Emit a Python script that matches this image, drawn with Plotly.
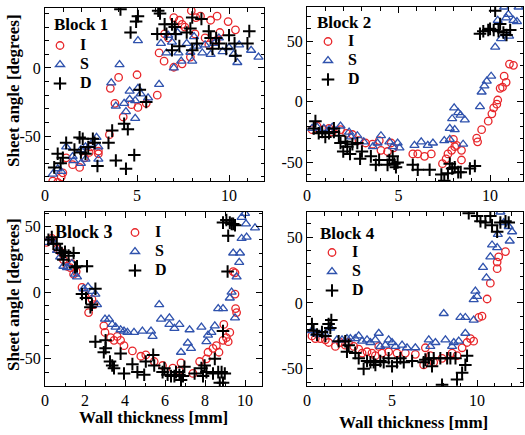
import plotly.graph_objects as go

# ---------------- data ----------------
# Block 1
B1_I_x = [0.42,0.69,0.88,0.97,1.15,1.5,1.88,2.15,2.4,2.5,2.9,2.9,3.5,3.55,3.8,4.0,4.25,4.7,5.0,5.05,5.5,6.1,6.2,6.47,6.5,6.7,7.0,7.0,7.3,7.45,7.45,7.6,7.9,7.95,8.15,8.2,8.45,8.7,9.0,9.35,9.5,9.95,10.35,8.9,9.3]
B1_I_y = [-83,-84,-80,-77,-66,-71,-73,-66,-62,-58,-63,-61,-49,-15,-26,-7,-36,-27,-5,-29,-26,-20,11,5,25,22,37,0.5,35,32,3,30,8,42,25,37,38,22,35,38,26,34,28,17,20]
B1_S_x = [0.42,0.69,0.88,1.15,1.5,1.55,1.95,1.95,2.2,2.2,2.5,2.8,2.9,2.9,3.6,3.85,4.05,4.3,4.4,4.6,4.6,4.9,4.9,5.05,5.05,5.2,5.6,6.2,6.3,6.6,6.7,6.9,7.0,7.2,7.25,7.4,7.7,7.9,8.0,8.1,8.25,8.55,8.7,9.0,9.2,9.45,9.65,10.0,10.25,10.45,10.55,11.2,11.6]
B1_S_y = [-78,-74,-76,-58,-65,-68,-70,-60,-58,-67,-56,-51,-58,-67,-11,-28,2.5,-26,-32,-17,-23,-24,-37,20,-15,-19,-22,-12,18,11,24,19,0,26,11,5,18,11.5,5,23,16,11,17,10,18,22,12,15,10,4,17,13,8]
B1_D_x = [0.5,0.69,0.85,0.97,1.15,1.6,1.88,1.95,2.05,2.2,2.35,2.6,2.7,2.85,3.45,3.65,3.85,4.1,4.3,4.4,4.5,4.65,4.85,4.95,5.05,5.15,5.5,6.15,6.25,6.1,6.5,6.6,6.9,7.05,7.1,6.9,7.3,7.7,7.9,8.0,8.25,8.0,8.5,8.9,9.0,9.1,9.3,9.45,9.85,10.0,10.3,10.35,11.1,11.0]
B1_D_y = [-73,-63,-70,-66,-55,-60,-51,-62,-52,-63,-58,-52,-55,-72,-55,-46,-68,43,-41,-74,-45,26,-64,34,38,-16,-25,42,40,25,32,25,32,30,25,13,16,26,29,37,18,13,36,27,22,14,22,18,14,24,18,9,27,18]

# Block 2
B2_I_x = [0.28,0.55,0.92,1.2,1.38,1.83,2.16,2.48,2.84,3.2,3.58,3.95,4.04,4.4,4.6,4.73,5.78,6.05,6.42,6.79,7.4,7.6,7.7,7.9,8.07,8.0,8.17,8.44,8.44,9.27,9.32,9.54,9.9,10.1,10.2,10.37,10.42,10.55,10.68,10.77,10.88,11.06,11.28]
B2_I_y = [-23,-20,-23,-22,-25,-23,-26,-27,-32,-34,-35,-32,-40,-41,-34,-38,-43,-43,-45,-43,-51,-47,-43,-40,-37,-31,-36,-40,-48,-30,-33,-23,-16,-10,-5,-2,1.4,11,12,21,16,31,30]
B2_S_x = [0.28,0.55,0.92,1.2,1.38,1.83,2.3,2.4,2.75,3.1,3.6,3.85,4.04,4.5,4.68,4.95,5.05,5.87,6.24,6.6,6.88,7.5,7.8,7.8,7.93,8.04,8.07,8.26,8.39,8.53,8.62,9.45,9.54,9.69,9.82,10.06,10.28,10.42,10.6,10.77,10.88,11.0,11.04,11.28,11.47,11.56]
B2_S_y = [-22,-21,-22,-23,-21,-20,-25,-29,-28,-33,-37,-34,-28,-33,-37,-34,-38,-36,-33,-36,-34,-32,-31,-22,-14,-5,-23,-9,-11,-35,-15,-4,8,13,17,21,45,67,52,78,69,72,54,67,66,78]
B2_D_x = [0.46,0.37,0.64,0.83,1.0,1.2,1.47,1.47,1.74,1.83,1.98,2.1,2.2,2.35,2.48,2.75,2.9,3.0,3.49,3.76,3.94,4.4,4.5,4.68,4.77,4.95,4.86,5.78,6.05,6.7,7.34,7.5,7.7,7.8,7.93,8.07,8.26,8.4,8.9,9.17,9.45,9.63,9.9,10.0,10.2,10.28,10.46,10.55,10.73,10.9,11.1]
B2_D_y = [-16,-22,-26,-25,-29,-26,-22,-25,-28,-34,-41,-33,-37,-43,-35,-34,-47,-41,-45,-52,-48,-52,-48,-45,-51,-50,-54,-52,-56,-56,-60,-65,-59,-51,-55,-54,-58,-58,-55,-53,56,58,59,60,59,75,58,64,57,55,59]

# Block 3
B3_I_x = [0.08,0.34,0.6,0.76,0.92,1.1,1.26,1.34,1.43,1.56,1.85,2.0,2.18,2.35,2.44,2.94,3.0,3.28,3.45,3.61,3.78,3.95,4.37,4.79,5.04,5.46,5.88,6.39,6.72,6.8,7.4,7.73,8.07,8.15,8.4,8.57,8.7,8.9,8.94,9.07,9.16,9.24,9.41,9.5,9.5,9.53,9.58]
B3_I_y = [38,41,33,31,25,20,19,22,14,16,4,-1,-15,-5,-9,-25,-30,-34,-36,-33,-36,-40,-44,-48,-47,-52,-55,-57,-59,-53,-61,-52,-50,-45,-42,-40,-45,-36,-24,-34,-37,-30,16,15,-1,-12,-15]
B3_S_x = [0.08,0.34,0.6,0.76,0.92,1.1,1.34,1.5,1.6,1.93,2.15,2.35,2.52,2.6,3.0,3.2,3.36,3.53,3.78,3.95,4.12,4.45,4.87,5.3,5.38,5.71,5.8,6.22,6.22,6.47,6.72,6.8,7.14,7.23,7.3,7.82,8.07,8.15,8.32,8.49,8.66,8.9,9.24,9.33,9.5,9.41,9.75,9.71,9.58,9.83,10.0,10.05,10.08,10.5,9.83]
B3_S_y = [38,40,32,27,20,19,22,14,12,3,4.5,1,-1,-9,-20,-20,-24,-26,-28,-29,-30,-30,-29,-29,-33,-9,-20,-19,-24,-27,-24,-45,-38,-28,-42,-26,-37,-32,-30,-25,-12,-12,-4,0.5,-19,30,30,23,12,41,60,52,42,49,57]
B3_D_x = [0.17,0.34,0.42,0.59,0.76,0.84,0.92,1.0,1.18,1.43,1.5,1.6,2.1,1.85,2.05,2.27,2.35,2.52,2.52,2.94,3.03,3.03,3.25,3.36,3.45,3.78,3.95,4.37,4.62,4.96,5.04,5.41,5.46,5.88,5.97,6.13,6.3,6.47,6.55,6.72,6.8,6.9,6.97,7.48,7.82,7.9,7.98,8.07,8.4,8.49,8.66,8.83,8.74,8.9,8.99,8.9,9.13,8.9,9.07,9.16,9.24,9.33,9.41,9.5]
B3_D_y = [40,42,37,37,32,30,25,31,28,30,19,20,20,-1,-4,-11,-9,3,-37,-45,-42,-36,-52,-55,-57,-46,-61,-54,-60,-62,-52,-47,-55,-60,-57,-62,-63,-63,-60,-62,-66,-63,-56,-61,-57,-63,-55,-60,-61,-50,-60,-60,-68,-68,-61,-29,16,53,55,43,53,52,52,51]

# Block 4
B4_I_x = [0.29,0.49,0.78,1.08,1.27,1.67,1.96,2.25,2.45,2.75,3.04,3.24,3.53,3.82,4.02,4.22,4.41,4.8,5.29,5.78,6.37,6.86,6.96,7.25,7.45,7.94,8.53,8.82,9.12,9.41,9.61,9.8,10.1,10.29,10.59,10.78,11.18,11.18,11.27,11.67]
B4_I_y = [-25,-27,-27,-28,-30,-33,-30,-32,-30,-33,-35,-38,-37,-38,-40,-33,-38,-37,-38,-38,-39,-47,-34,-40,-45,-42,-38,-40,-34,-30,-27,-29,-11,-10,3,15,26,31,35,39]
B4_S_x = [0.29,0.49,0.78,1.08,1.37,1.76,2.06,2.35,2.55,2.84,3.04,3.24,3.53,3.73,4.02,4.22,4.31,4.61,4.8,5.0,5.2,5.59,5.88,6.37,7.16,7.25,7.55,8.04,8.14,8.53,8.63,8.92,9.02,9.31,9.31,9.8,9.8,9.9,10.0,10.35,10.55,10.78,10.88,11.18,11.22,11.37,11.57,11.86,11.92,12.06]
B4_S_y = [-21,-23,-24,-24,-19,-28,-28,-27,-27,-27,-25,-29,-28,-30,-28,-23,-33,-32,-28,-30,-33,-32,-34,-34,-28,-33,-30,-8,-28,-33,-30,-29,-11,-11,-23,-13,2.5,9,5,27,19,35,44,42,52,69,61,58,47,54]
B4_D_x = [0.29,0.39,0.59,0.88,1.08,1.27,1.43,1.37,1.86,2.25,2.35,2.45,2.84,3.04,3.33,3.53,3.73,3.92,4.02,4.31,4.51,4.8,5.0,5.29,5.49,5.69,6.18,6.86,6.96,7.16,7.35,7.45,7.84,8.24,8.43,8.73,7.94,8.82,9.12,9.31,9.41,9.51,10.0,10.2,10.49,10.78,10.88,11.18,11.37,11.67,11.86]
B4_D_y = [-16,-21,-24,-22,-25,-16,-13,-19,-29,-29,-37,-32,-38,-42,-50,-44,-45,-45,-47,-44,-45,-42,-48,-45,-42,-45,-44,-45,-43,-42,-48,-42,-42,-42,-42,-42,-62,-58,-53,-47,-40,68,66,62,61,66,59,54,61,62,61]

SERIES_NAMES = ["I", "S", "D"]
BLOCK_TITLES = ["Block 1", "Block 2", "Block 3", "Block 4"]
X_TITLE = "Wall thickness [mm]"
Y_TITLE = "Sheet angle [degrees]"

blocks = [
    [(B1_I_x, B1_I_y), (B1_S_x, B1_S_y), (B1_D_x, B1_D_y)],
    [(B2_I_x, B2_I_y), (B2_S_x, B2_S_y), (B2_D_x, B2_D_y)],
    [(B3_I_x, B3_I_y), (B3_S_x, B3_S_y), (B3_D_x, B3_D_y)],
    [(B4_I_x, B4_I_y), (B4_S_x, B4_S_y), (B4_D_x, B4_D_y)],
]

# ---------------- styling / layout ----------------
W, H = 525, 435
FONT = "Liberation Serif"
styles = [
    dict(symbol="circle-open", color="#e8262a", size=7.5, line=dict(width=1.3, color="#e8262a")),
    dict(symbol="triangle-up-open", color="#2f52ad", size=8, line=dict(width=1.3, color="#2f52ad")),
    dict(symbol="cross-thin-open", color="black", size=9, line=dict(width=2.0, color="black")),
]

def px_x(p):
    return p / W

def px_y(p):
    return 1 - p / H

panels = [
    dict(xd=[45, 264], yd=[181, 8], xr=[0, 11.9], yr=[-83, 44], xdt=5),
    dict(xd=[307, 523], yd=[181, 7], xr=[0, 11.8], yr=[-65.3, 78], xdt=5),
    dict(xd=[45, 262], yd=[386, 212], xr=[0, 10.85], yr=[-70.5, 61], xdt=2),
    dict(xd=[307, 523], yd=[386, 212], xr=[0, 12.7], yr=[-63, 69], xdt=5),
]
legend_pos = [(40, 31), (308, 27), (115, 218), (312, 238)]
title_pos = [(52, 24), (315, 22), (53, 232), (318, 233)]
title_size = [17, 17, 18, 17]

fig = go.Figure()
layout = dict(
    template="none",
    width=W, height=H, margin=dict(l=0, r=0, t=0, b=0, autoexpand=False),
    paper_bgcolor="white", plot_bgcolor="white",
    font=dict(family=FONT, size=16, color="black"),
    annotations=[],
)

for i, (panel, data) in enumerate(zip(panels, blocks)):
    n = "" if i == 0 else str(i + 1)
    xa, ya = "x" + n, "y" + n
    lg = "legend" if i == 0 else "legend" + str(i + 1)
    for j, (xs, ys) in enumerate(data):
        st = styles[j]
        fig.add_trace(go.Scatter(
            x=xs, y=ys, mode="markers",
            name="<b><span style='font-size:16px'>%s</span></b>" % SERIES_NAMES[j],
            xaxis=xa, yaxis=ya, legend=lg,
            marker=dict(symbol=st["symbol"], size=st["size"], color=st["color"], line=st["line"]),
        ))
    yt = list(range(-50, 100, 50))
    axis_common = dict(
        showline=True, linecolor="black", linewidth=1, mirror="ticks",
        ticks="inside", ticklen=6, tickwidth=1, tickcolor="black",
        showgrid=False, zeroline=False, automargin=False,
        tickfont=dict(family=FONT, size=16, color="black"),
    )
    layout["xaxis" + n] = dict(
        axis_common, domain=[px_x(panel["xd"][0]), px_x(panel["xd"][1])],
        range=panel["xr"], dtick=panel["xdt"], tick0=0, anchor=ya,
        minor=dict(dtick=1, ticks="inside", ticklen=3.5, tickcolor="black", showgrid=False),
    )
    layout["yaxis" + n] = dict(
        axis_common, domain=[px_y(panel["yd"][0]), px_y(panel["yd"][1])],
        range=panel["yr"], tickmode="array", tickvals=yt,
        ticktext=[str(v) for v in yt], anchor=xa,
        minor=dict(dtick=10, tick0=0, ticks="inside", ticklen=3.5, tickcolor="black", showgrid=False),
    )
    lx, ly = legend_pos[i]
    layout[lg] = dict(
        x=px_x(lx), y=px_y(ly), xanchor="left", yanchor="top",
        bgcolor="rgba(0,0,0,0)", borderwidth=0,
        font=dict(family=FONT, size=12, color="black"),
        itemwidth=30, tracegroupgap=0,
    )
    tx, ty = title_pos[i]
    layout["annotations"].append(dict(
        text="<b>%s</b>" % BLOCK_TITLES[i], xref="paper", yref="paper",
        x=px_x(tx), y=px_y(ty), xanchor="left", yanchor="middle", showarrow=False,
        font=dict(family=FONT, size=title_size[i], color="black"),
    ))

layout["annotations"] += [
    dict(text="<b>%s</b>" % Y_TITLE, xref="paper", yref="paper", x=px_x(13), y=px_y(91),
         xanchor="center", yanchor="middle",
         textangle=-90, showarrow=False, font=dict(family=FONT, size=17, color="black")),
    dict(text="<b>%s</b>" % Y_TITLE, xref="paper", yref="paper", x=px_x(13), y=px_y(295),
         xanchor="center", yanchor="middle",
         textangle=-90, showarrow=False, font=dict(family=FONT, size=17, color="black")),
    dict(text="<b>%s</b>" % X_TITLE, xref="paper", yref="paper", x=px_x(153), y=px_y(417),
         xanchor="center", yanchor="middle",
         showarrow=False, font=dict(family=FONT, size=17, color="black")),
    dict(text="<b>%s</b>" % X_TITLE, xref="paper", yref="paper", x=px_x(413), y=px_y(422),
         xanchor="center", yanchor="middle",
         showarrow=False, font=dict(family=FONT, size=17, color="black")),
]

fig.update_layout(**layout)
fig.write_html("out.html", config={"displayModeBar": False})

# remove the default page margin so the figure sits at the window's top-left corner
with open("out.html", encoding="utf-8") as f:
    html = f.read()
html = html.replace("<head>", "<head><style>html,body{margin:0;padding:0;overflow:hidden;}</style>", 1)
with open("out.html", "w", encoding="utf-8") as f:
    f.write(html)
